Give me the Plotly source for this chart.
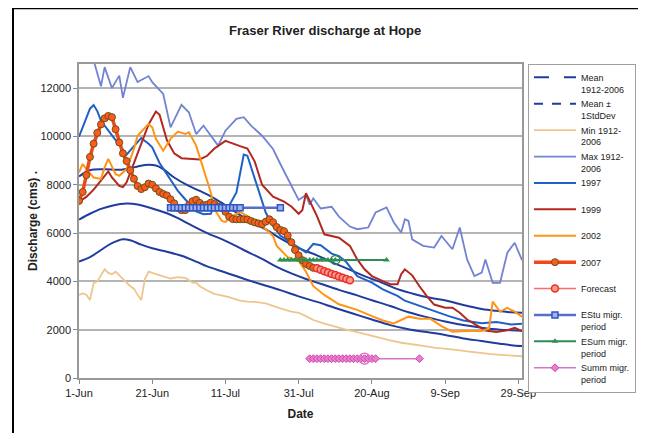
import datetime as dt
import plotly.graph_objects as go

BASE = dt.date(2007, 6, 1)

# ---- data (day offsets from 1-Jun, discharge in cms) ----
MEAN_DAYS = [0, 3, 6, 9, 13, 16, 20, 24, 27, 30, 35, 40, 45, 50, 54, 58, 62, 66, 71, 76, 80, 85, 90, 95, 100, 105, 110, 115, 118, 121]
MEAN_VALS = [6560, 6800, 7000, 7130, 7220, 7180, 7020, 6820, 6620, 6380, 6000, 5680, 5300, 4930, 4600, 4330, 4100, 3900, 3650, 3420, 3220, 2980, 2720, 2520, 2340, 2190, 2080, 2000, 1980, 1960]

MEANP_DAYS = [0, 3, 7, 11, 15, 18, 21, 23, 26, 30, 35, 39, 42, 46, 51, 55, 60, 65, 69, 74, 78, 83, 87, 92, 96, 101, 105, 110, 114, 118, 121]
MEANP_VALS = [8340, 8600, 8640, 8620, 8720, 8820, 8800, 8650, 8300, 7950, 7600, 7250, 6950, 6550, 6150, 5780, 5380, 5080, 4800, 4480, 4220, 3930, 3680, 3460, 3320, 3180, 3020, 2860, 2780, 2720, 2700]

MEANM_DAYS = [0, 3, 6, 9, 12, 14, 17, 20, 24, 28, 32, 35, 40, 45, 50, 55, 60, 65, 70, 75, 80, 85, 90, 95, 100, 105, 110, 115, 118, 121]
MEANM_VALS = [4820, 5000, 5300, 5580, 5740, 5700, 5520, 5370, 5230, 5060, 4820, 4620, 4370, 4110, 3870, 3640, 3380, 3150, 2900, 2660, 2420, 2190, 2020, 1900, 1780, 1640, 1530, 1420, 1360, 1320]

MIN_DAYS = [0, 1, 2, 3, 4, 5, 7, 8, 9, 10, 11, 12, 13, 14, 15, 16, 17, 18, 19, 21, 23, 25, 27, 29, 31, 32, 33, 35, 37, 39, 41, 42, 44, 46, 48, 51, 53, 55, 58, 60, 62, 64, 67, 70, 73, 76, 79, 82, 85, 88, 91, 94, 97, 100, 103, 106, 109, 112, 115, 118, 121]
MIN_VALS = [3440, 3500, 3450, 3230, 3920, 4000, 4500, 4350, 4300, 4400, 4250, 4080, 3950, 3800, 3700, 3450, 3230, 4100, 4400, 4300, 4200, 4120, 4180, 4150, 3950, 3950, 3800, 3620, 3480, 3430, 3350, 3300, 3200, 3160, 3150, 3090, 2980, 2880, 2750, 2700, 2560, 2400, 2250, 2120, 2000, 1900, 1780, 1680, 1560, 1460, 1380, 1330, 1260, 1220, 1160, 1100, 1040, 1000, 960, 940, 900]

MAX_DAYS = [3, 4, 6, 7, 9, 11, 12, 14, 16, 19, 20, 23, 25, 28, 30, 32, 34, 36, 38, 40, 43, 45, 47, 50, 53, 55, 58, 60, 62, 63, 64, 66, 69, 71, 74, 76, 79, 81, 84, 86, 88, 89, 90, 91, 94, 97, 99, 102, 104, 106, 108, 110, 111, 113, 115, 117, 119, 121]
MAX_VALS = [13600, 13150, 12080, 12870, 12000, 12520, 11600, 12870, 12250, 12500, 12250, 11760, 10380, 11310, 11000, 10100, 10450, 10030, 9620, 10240, 10730, 10800, 10450, 10030, 9480, 8860, 7960, 7370, 7580, 7180, 7440, 7020, 7090, 6680, 6270, 6160, 6230, 6850, 7060, 6440, 6020, 6570, 6500, 5740, 5470, 5400, 5880, 5330, 6230, 4910, 4220, 4360, 4910, 3940, 3940, 5190, 5600, 4880]

Y1997_DAYS = [0, 2, 3, 4, 5, 6, 8, 10, 12, 13, 15, 17, 19, 20, 22, 25, 27, 29, 32, 34, 36, 37, 39, 41, 43, 44, 45, 46, 49, 51, 53, 55, 58, 60, 62, 64, 66, 69, 71, 73, 76, 78, 80, 83, 85, 87, 89, 92, 96, 101, 105, 110, 114, 118, 121]
Y1997_VALS = [9990, 10750, 11150, 11300, 11050, 10650, 10250, 9800, 9420, 9250, 9600, 9930, 9700, 9550, 8900, 8200, 7750, 7400, 6900, 6780, 6800, 7200, 7150, 7130, 7680, 8400, 9250, 9200, 7800, 6850, 6300, 5900, 5600, 5400, 5200, 5550, 5500, 5150, 5050, 4800, 4220, 4080, 3950, 3670, 3530, 3400, 3200, 3040, 2840, 2560, 2380, 2270, 2320, 2220, 2250]

Y1999_DAYS = [0, 2, 4, 6, 8, 9, 11, 12, 13, 15, 17, 19, 21, 22, 24, 26, 28, 30, 33, 35, 37, 40, 42, 44, 46, 48, 50, 53, 56, 58, 60, 61, 62, 63, 65, 67, 69, 71, 74, 76, 78, 80, 83, 85, 87, 88, 89, 91, 93, 95, 97, 100, 102, 104, 106, 109, 111, 114, 117, 119, 121]
Y1999_VALS = [7300, 7500, 7800, 8200, 8550, 8300, 7950, 7900, 8100, 8900, 9700, 10500, 11030, 10900, 9850, 9300, 9100, 9080, 9050, 9200, 9500, 9820, 9700, 9600, 9500, 8960, 8000, 7510, 7300, 7100, 6800, 6950, 7650, 7350, 6700, 5950, 5880, 5810, 5470, 4910, 4500, 4220, 4010, 3880, 3880, 4300, 4500, 4250, 3800, 3390, 3040, 2910, 2910, 2700, 2420, 2150, 1970, 1900, 1980, 2080, 1940]

Y2002_DAYS = [0, 1, 2, 4, 6, 7, 8, 10, 11, 13, 15, 16, 19, 20, 21, 23, 25, 27, 29, 30, 32, 34, 36, 37, 39, 40, 42, 44, 46, 49, 51, 53, 54, 57, 60, 62, 64, 67, 71, 76, 80, 83, 86, 88, 90, 93, 96, 99, 102, 106, 110, 112, 113, 115, 117, 119, 121]
Y2002_VALS = [8510, 8860, 8650, 8300, 8240, 8720, 9070, 8440, 8370, 8650, 9480, 10030, 10520, 10380, 9900, 9410, 9900, 10200, 10100, 10170, 9620, 8650, 7680, 6990, 6500, 6460, 6710, 6880, 6710, 6440, 6160, 5880, 5470, 5000, 4850, 4400, 3800, 3440, 3050, 2820, 2560, 2380, 2260, 2400, 2540, 2450, 2450, 2150, 1920, 1950, 1950, 2050, 3160, 2750, 2900, 2750, 2540]

Y2007_DAYS = list(range(0, 65))
Y2007_VALS = [7330, 7700, 8400, 9150, 9700, 10150, 10500, 10750, 10850, 10800, 10300, 9750, 9300, 8980, 8600, 8250, 7950, 7820, 7900, 8050, 8000, 7850, 7700, 7620, 7560, 7400, 7230, 7050, 6950, 6950, 7150, 7320, 7380, 7250, 7150, 7180, 7260, 7200, 7100, 7050, 6880, 6680, 6580, 6570, 6570, 6570, 6560, 6500, 6440, 6400, 6370, 6470, 6570, 6450, 6250, 6130, 6080, 5900, 5620, 5300, 5080, 4880, 4720, 4640, 4560]

FC_DAYS = [65, 66, 67, 68, 69, 70, 71, 72, 73, 74]
FC_VALS = [4540, 4480, 4420, 4370, 4310, 4260, 4200, 4150, 4100, 4050]

ESTU_DAYS = list(range(25, 45)) + [55]
ESTU_LEVEL = 7050
ESUM_DAYS = list(range(55, 71)) + [84]
ESUM_LEVEL = 4890
ESUM_MID = 70
SUMM_DAYS = list(range(63, 82)) + [93]
SUMM_LEVEL = 800
SUMM_MID = 78

TICK_DAYS = [0, 20, 40, 60, 80, 100, 120]
TICK_TEXT = ["1-Jun", "21-Jun", "11-Jul", "31-Jul", "20-Aug", "9-Sep", "29-Sep"]
Y_TICKS = [0, 2000, 4000, 6000, 8000, 10000, 12000]


def dates(days):
    return [BASE + dt.timedelta(days=d) for d in days]


FONT = "Liberation Sans, Arial, sans-serif"
DARKBLUE = "#1f3c9e"

fig = go.Figure()

# legend-only entries for the mean lines (dashed in the legend)
fig.add_trace(go.Scatter(x=[None], y=[None], mode="lines", name="Mean<br>1912-2006",
                         line=dict(color=DARKBLUE, width=2, dash="longdash"), legendgroup="mean"))
fig.add_trace(go.Scatter(x=[None], y=[None], mode="lines", name="Mean ±<br>1StdDev",
                         line=dict(color=DARKBLUE, width=2, dash="dash"), legendgroup="sd"))

fig.add_trace(go.Scatter(x=dates(MIN_DAYS), y=MIN_VALS, mode="lines", name="Min 1912-<br>2006",
                         line=dict(color="#eec68c", width=1.8)))
fig.add_trace(go.Scatter(x=dates(MAX_DAYS), y=MAX_VALS, mode="lines", name="Max 1912-<br>2006",
                         line=dict(color="#7283d2", width=1.8)))

fig.add_trace(go.Scatter(x=dates(MEAN_DAYS), y=MEAN_VALS, mode="lines", showlegend=False,
                         line=dict(color=DARKBLUE, width=2, shape="spline"), legendgroup="mean"))
fig.add_trace(go.Scatter(x=dates(MEANP_DAYS), y=MEANP_VALS, mode="lines", showlegend=False,
                         line=dict(color=DARKBLUE, width=2, shape="spline"), legendgroup="sd"))
fig.add_trace(go.Scatter(x=dates(MEANM_DAYS), y=MEANM_VALS, mode="lines", showlegend=False,
                         line=dict(color=DARKBLUE, width=2, shape="spline"), legendgroup="sd"))

fig.add_trace(go.Scatter(x=dates(Y1997_DAYS), y=Y1997_VALS, mode="lines", name="1997<br> ",
                         line=dict(color="#2160c4", width=2)))
fig.add_trace(go.Scatter(x=dates(Y1999_DAYS), y=Y1999_VALS, mode="lines", name="1999<br> ",
                         line=dict(color="#b3271f", width=2)))
fig.add_trace(go.Scatter(x=dates(Y2002_DAYS), y=Y2002_VALS, mode="lines", name="2002<br> ",
                         line=dict(color="#ff9415", width=2)))
fig.add_trace(go.Scatter(x=dates(Y2007_DAYS), y=Y2007_VALS, mode="lines+markers", name="2007<br> ",
                         line=dict(color="#f0481a", width=3.5),
                         marker=dict(symbol="circle", size=7, color="#ff5a1e",
                                     line=dict(color="#6a5212", width=1))))
fig.add_trace(go.Scatter(x=dates(FC_DAYS), y=FC_VALS, mode="lines+markers", name="Forecast<br> ",
                         line=dict(color="#ff6a6a", width=1.5),
                         marker=dict(symbol="circle", size=7, color="#ff9a8a",
                                     line=dict(color="#e8302a", width=1.5))))

fig.add_trace(go.Scatter(x=dates(ESTU_DAYS), y=[ESTU_LEVEL] * len(ESTU_DAYS), mode="lines+markers",
                         name="EStu migr.<br>period",
                         line=dict(color="#5a6ec8", width=2.5),
                         marker=dict(symbol="square", size=6, color="#9fb2f0",
                                     line=dict(color="#2f55c0", width=1.5))))
fig.add_trace(go.Scatter(x=dates(ESUM_DAYS), y=[ESUM_LEVEL] * len(ESUM_DAYS), mode="lines+markers",
                         name="ESum migr.<br>period",
                         line=dict(color="#2e8b57", width=2),
                         marker=dict(symbol="triangle-up", size=6, color="#2e9050")))
fig.add_trace(go.Scatter(x=dates([ESUM_MID]), y=[ESUM_LEVEL], mode="markers", showlegend=False,
                         marker=dict(symbol="circle-open", size=9, color="#2e8b57", line=dict(width=1.5))))
fig.add_trace(go.Scatter(x=dates(SUMM_DAYS), y=[SUMM_LEVEL] * len(SUMM_DAYS), mode="lines+markers",
                         name="Summ migr.<br>period",
                         line=dict(color="#d676c6", width=1.5),
                         marker=dict(symbol="diamond", size=6, color="#ec7ed2",
                                     line=dict(color="#c84aa8", width=1))))
fig.add_trace(go.Scatter(x=dates([SUMM_MID]), y=[SUMM_LEVEL], mode="markers", showlegend=False,
                         marker=dict(symbol="circle-open", size=11, color="#e070c8", line=dict(width=1.5))))

# outer black frame of the chart
fig.add_shape(type="rect", xref="paper", yref="paper", x0=-0.149, x1=1.273, y0=-0.3, y1=1.1775,
              line=dict(color="black", width=2), layer="above")

# the page body adds an 8px margin, so the figure is 8px smaller each way
fig.update_layout(
    width=638, height=425,
    margin=dict(l=71, r=124, t=56, b=55, autoexpand=False),
    paper_bgcolor="white", plot_bgcolor="white",
    font=dict(family=FONT, size=11, color="#222"),
    title=dict(text="<b>Fraser River discharge at Hope</b>", x=0.497, xanchor="center",
               y=1 - 22 / 425, yanchor="middle", font=dict(size=13, color="#222")),
    legend=dict(x=1.0135, y=1.0, xanchor="left", yanchor="top",
                bordercolor="#a0a0a0", borderwidth=1, bgcolor="white",
                font=dict(size=9, color="#222"), valign="top",
                itemwidth=42, tracegroupgap=0, traceorder="normal", maxheight=400),
    showlegend=True,
)

fig.update_xaxes(
    type="date",
    range=[BASE, BASE + dt.timedelta(days=121.5)],
    tickvals=dates(TICK_DAYS), ticktext=TICK_TEXT,
    showgrid=False, zeroline=False,
    showline=True, mirror=True, linecolor="#999", linewidth=1.5,
    ticks="outside", ticklen=4, tickcolor="#888",
    tickfont=dict(size=11),
    title=dict(text="<b>Date</b>", font=dict(size=12), standoff=12),
)
fig.update_yaxes(
    range=[0, 13000], tickvals=Y_TICKS, tickformat="d",
    showgrid=True, gridcolor="#b4b4b4", gridwidth=1.5, zeroline=False,
    showline=True, mirror=True, linecolor="#999", linewidth=1.5,
    ticks="outside", ticklen=4, tickcolor="#888",
    tickfont=dict(size=11),
    title=dict(text="<b>Discharge (cms) .</b>", font=dict(size=12), standoff=0),
)

fig.write_html("out.html")
